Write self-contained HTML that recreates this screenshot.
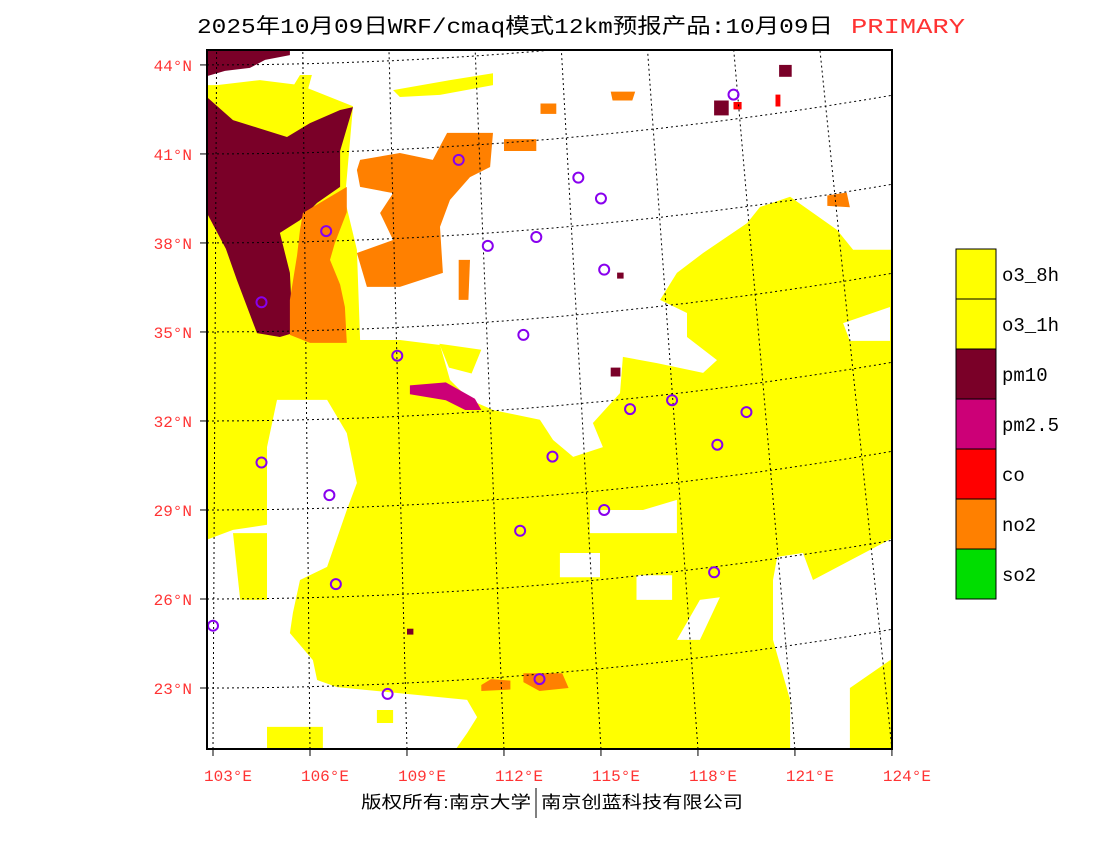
<!DOCTYPE html>
<html><head><meta charset="utf-8"><style>
html,body{margin:0;padding:0;background:#fff;}
svg{display:block;}
</style></head><body>
<svg id="chart" width="1100" height="850" viewBox="0 0 1100 850" xmlns="http://www.w3.org/2000/svg">
<rect width="1100" height="850" fill="#fff"/>
<text x="197" y="33" font-family="'Liberation Mono','Noto Sans CJK SC',monospace" font-size="21" fill="#000" textLength="636" lengthAdjust="spacingAndGlyphs">2025年10月09日WRF/cmaq模式12km预报产品:10月09日</text>
<text x="851" y="33" font-family="'Liberation Mono',monospace" font-size="21" fill="#ff3333" textLength="114" lengthAdjust="spacingAndGlyphs">PRIMARY</text>
<defs><clipPath id="mapclip"><rect x="207" y="50" width="685" height="699"/></clipPath></defs>
<g id="map" clip-path="url(#mapclip)">
<rect x="207" y="50" width="685" height="699" fill="#ffff00"/>
<g id="fills"></g>
<g id="grid"></g>
<g id="cities"></g>
</g>
<rect x="207" y="50" width="685" height="699" fill="none" stroke="#000" stroke-width="2"/>
<g id="axes"></g>
<g id="legend"></g>
<text x="361" y="808" font-family="'Liberation Sans','Noto Sans CJK SC',sans-serif" font-size="17" fill="#000" textLength="170" lengthAdjust="spacingAndGlyphs">版权所有:南京大学</text>
<line x1="536" y1="788" x2="536" y2="818" stroke="#000" stroke-width="1"/>
<text x="541" y="808" font-family="'Liberation Sans','Noto Sans CJK SC',sans-serif" font-size="17" fill="#000" textLength="202" lengthAdjust="spacingAndGlyphs">南京创蓝科技有限公司</text>
</svg>
<script>
// ---- data ----
const legendCategories = ["o3_8h","o3_1h","pm10","pm2.5","co","no2","so2"];
const legendColors = ["#ffff00","#ffff00","#7a0028","#cc0077","#ff0000","#ff8000","#00dd00"];
const latTicks = [23,26,29,32,35,38,41,44];
const lonTicks = [103,106,109,112,115,118,121,124];
const cityLon = [119.1,110.6,114.3,115.0,106.5,111.5,113.0,115.1,104.5,112.6,108.7,117.2,115.9,119.5,113.5,118.6,104.5,106.6,115.1,112.5,118.5,106.8,103.0,108.4,113.1];
const cityLat = [43.0,40.8,40.2,39.5,38.4,37.9,38.2,37.1,36.0,34.9,34.2,32.7,32.4,32.3,30.8,31.2,30.6,29.5,29.0,28.3,26.9,26.5,25.1,22.8,23.3];
const whiteRegions = [
 [[102.81,44.5],[124.03,44.5],[124.03,37.77],[122.8,37.77],[122.3,38.44],[120.85,39.56],[119.92,39.21],[119.52,38.67],[118.16,37.66],[117.35,36.99],[116.83,36.08],[117.66,35.64],[117.66,34.83],[118.59,34.05],[118.16,33.62],[116.73,33.95],[115.68,34.16],[115.59,32.94],[114.75,31.93],[115.06,31.12],[114.14,30.79],[113.52,31.36],[113.11,32.04],[111.66,32.37],[110.95,32.71],[110.33,33.38],[110.02,34.56],[108.78,34.73],[107.55,34.73],[107.45,37.77],[107.08,39.45],[107.33,42.61],[105.69,43.32],[104.45,43.49],[103.12,43.32],[102.81,43.32]],
 [[104.98,32.71],[106.53,32.71],[107.14,31.59],[107.45,29.91],[107.14,29.0],[106.53,27.08],[105.69,26.64],[105.47,25.53],[105.38,24.85],[106.09,23.94],[106.22,23.27],[106.84,23.03],[110.86,22.6],[111.17,22.02],[110.86,21.48],[110.42,20.8],[102.81,20.8],[102.81,28.0],[103.62,28.33],[104.67,28.5],[104.67,31.12]],
 [[114.66,29.0],[116.3,29.0],[117.35,29.34],[117.35,28.22],[116.3,28.22],[114.66,28.22]],
 [[113.73,27.55],[114.97,27.55],[114.97,26.73],[113.73,26.73]],
 [[116.1,26.8],[117.2,26.8],[117.2,25.97],[116.1,25.97]],
 [[122.49,35.3],[123.94,35.84],[123.94,34.7],[122.7,34.7]],
 [[120.32,26.64],[120.45,27.42],[121.25,27.55],[121.56,26.64],[124.03,28.06],[124.03,24.0],[122.7,23.0],[122.7,20.8],[120.85,20.8],[120.85,22.6],[120.32,24.62]],
 [[117.35,24.62],[118.06,25.97],[118.68,26.06],[118.06,24.62]]
];
const yellowRegions = [
 [[103.62,28.22],[104.67,28.22],[104.67,25.97],[103.84,25.97]],
 [[104.67,21.69],[106.4,21.69],[106.4,20.8],[104.67,20.8]],
 [[108.07,22.26],[108.57,22.26],[108.57,21.82],[108.07,21.82]],
 [[105.69,43.66],[106.06,43.66],[105.85,42.82],[105.38,42.14],[104.76,41.97],[104.61,42.31],[105.22,42.82]],
 [[108.57,43.15],[110.33,43.49],[111.66,43.72],[111.66,43.32],[110.02,42.99],[108.78,42.92]],
 [[110.0,34.6],[111.3,34.4],[111.0,33.6],[110.3,33.8]],
 [[115.7,33.7],[116.8,33.6],[117.3,32.7],[116.5,32.0],[115.8,32.5]]
];
const maroonRegions = [
 [[102.81,42.92],[103.62,42.14],[105.29,41.57],[106.0,42.04],[106.93,42.48],[107.33,42.58],[106.93,41.1],[106.93,39.89],[106.22,39.35],[105.69,38.77],[105.07,38.34],[105.38,36.99],[105.47,34.96],[105.07,34.83],[104.36,34.96],[103.74,36.75],[103.4,37.8],[102.81,39.01]],
 [[102.81,44.5],[105.38,44.5],[105.38,44.33],[104.61,44.17],[104.14,43.9],[103.37,43.8],[102.81,43.62]],
 [[120.51,44.0],[120.9,44.0],[120.9,43.6],[120.51,43.6]],
 [[118.5,42.8],[118.95,42.8],[118.95,42.3],[118.5,42.3]],
 [[115.3,33.8],[115.6,33.8],[115.6,33.5],[115.3,33.5]],
 [[115.5,37.0],[115.7,37.0],[115.7,36.8],[115.5,36.8]],
 [[109.0,25.0],[109.2,25.0],[109.2,24.8],[109.0,24.8]]
];
const orangeRegions = [
 [[105.78,39.01],[107.14,39.89],[107.14,39.04],[106.77,38.0],[106.62,37.43],[106.93,36.6],[107.08,35.84],[107.14,34.63],[106.0,34.63],[105.38,34.9],[105.38,36.08],[105.6,37.59],[105.69,38.44]],
 [[107.55,40.8],[108.78,41.03],[109.8,40.8],[110.24,41.71],[111.66,41.71],[111.57,40.56],[110.95,40.22],[110.33,39.45],[110.02,38.54],[110.11,36.99],[108.78,36.52],[107.76,36.52],[107.45,37.66],[108.57,38.1],[108.17,39.01],[108.57,39.68],[107.55,39.89],[107.45,40.46]],
 [[110.6,37.43],[110.95,37.43],[110.9,36.08],[110.6,36.08]],
 [[112.0,41.5],[113.0,41.5],[113.0,41.1],[112.0,41.1]],
 [[115.3,43.1],[116.06,43.1],[115.97,42.8],[115.36,42.8]],
 [[113.13,42.7],[113.62,42.7],[113.62,42.35],[113.13,42.35]],
 [[122.0,39.6],[122.6,39.7],[122.7,39.2],[122.0,39.25]],
 [[111.3,23.1],[111.6,23.3],[112.2,23.25],[112.2,22.95],[111.3,22.9]],
 [[112.6,23.5],[113.8,23.5],[114.0,23.0],[113.1,22.9],[112.6,23.2]]
];
const pinkRegions = [
 [[109.09,33.2],[110.2,33.3],[111.1,32.75],[111.3,32.37],[110.8,32.37],[110.2,32.7],[109.09,32.9]]
];
const redRegions = [
 [[119.1,42.75],[119.35,42.75],[119.35,42.5],[119.1,42.5]],
 [[120.4,43.0],[120.55,43.0],[120.55,42.6],[120.4,42.6]]
];
// ---- projection ----
function px(lon){return 213+(lon-103)*32.33;}
function py(lat){return 688-(lat-23)*29.67;}
function rise(x){return 0.000125*(x-207)*(x-207);}
const NS="http://www.w3.org/2000/svg";
function mk(tag,attrs,parent){const e=document.createElementNS(NS,tag);for(const k in attrs)e.setAttribute(k,attrs[k]);parent.appendChild(e);return e;}
const fills=document.getElementById('fills');
function drawRegions(list,color,name){
 list.forEach(poly=>{
  const pts=poly.map(p=>px(p[0]).toFixed(1)+','+py(p[1]).toFixed(1)).join(' ');
  const el=mk('polygon',{points:pts,fill:color},fills);
  
  
 });
}
drawRegions(whiteRegions,'#ffffff','no-pollutant-area');
drawRegions(yellowRegions,'#ffff00','o3-area');
drawRegions(maroonRegions,legendColors[2],'pm10-area');
drawRegions(pinkRegions,legendColors[3],'pm25-area');
drawRegions(redRegions,legendColors[4],'co-area');
drawRegions(orangeRegions,legendColors[5],'no2-area');
// grid
const grid=document.getElementById('grid');
latTicks.forEach(lat=>{
 let d='';
 for(let x=207;x<=892;x+=5){const y=py(lat)-rise(x);d+=(x===207?'M':'L')+x+','+y.toFixed(1);}
 const el=mk('path',{d:d,fill:'none',stroke:'#000','stroke-width':1,'stroke-dasharray':'2,3'},grid);
 
 
});
lonTicks.forEach(lon=>{
 const xb=px(lon), xt=xb-(lon-104)*3.6;
 const el=mk('line',{x1:xb,y1:749,x2:xt,y2:50,stroke:'#000','stroke-width':1,'stroke-dasharray':'2,3'},grid);
 
 
});
// cities
const cg=document.getElementById('cities');
cityLon.forEach((lon,i)=>{
 const el=mk('circle',{cx:px(lon),cy:py(cityLat[i]),r:5,fill:'none',stroke:'#8800ee','stroke-width':2},cg);
 
 
});
// axes
const ax=document.getElementById('axes');
latTicks.forEach(lat=>{
 const t=mk('text',{x:192,y:py(lat)+6,'text-anchor':'end','font-family':"'Liberation Mono',monospace",'font-size':16,fill:'#ff3333'},ax);
 t.textContent=lat+'°N';
 
 
 const tk=mk('line',{x1:200,y1:py(lat),x2:207,y2:py(lat),stroke:'#000','stroke-width':1},ax);
 
 
});
lonTicks.forEach(lon=>{
 const t=mk('text',{x:px(lon)+15,y:781,'text-anchor':'middle','font-family':"'Liberation Mono',monospace",'font-size':16,fill:'#ff3333'},ax);
 t.textContent=lon+'°E';
 
 
 const tk=mk('line',{x1:px(lon),y1:749,x2:px(lon),y2:756,stroke:'#000','stroke-width':1},ax);
 
 
});
// legend
const lg=document.getElementById('legend');
legendCategories.forEach((c,i)=>{
 const r=mk('rect',{x:956,y:249+i*50,width:40,height:50,fill:legendColors[i],stroke:'#000','stroke-width':1},lg);
 
 
 const t=mk('text',{x:1002,y:281+i*50,'font-family':"'Liberation Mono',monospace",'font-size':19,fill:'#000'},lg);
 t.textContent=c;
 
 
});
</script>
</body></html>
